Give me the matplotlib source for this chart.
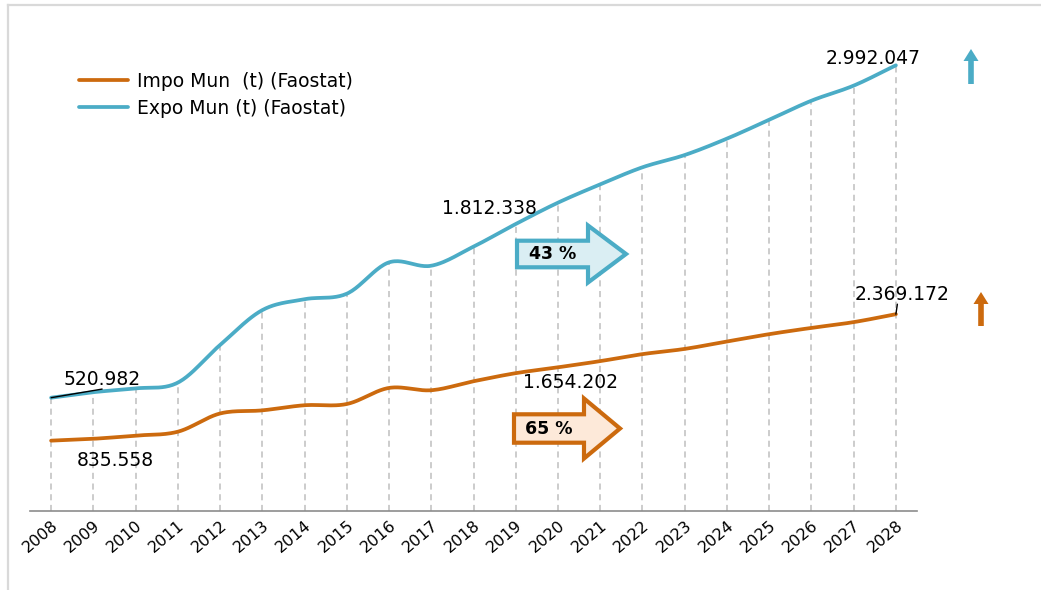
import numpy as np
import matplotlib.pyplot as plt
from matplotlib.lines import Line2D
from matplotlib.patches import Polygon

# Data (t)
years = list(range(2008, 2029))
impo = [835558, 858000, 897000, 944000, 1165000, 1203000, 1265000, 1280000,
        1475000, 1447000, 1556000, 1654202, 1725000, 1800000, 1885000, 1948000,
        2038000, 2127000, 2203000, 2273000, 2369172]
expo = [520982, 562000, 590000, 633000, 913000, 1172000, 1253000, 1294000,
        1527000, 1502000, 1644000, 1812338, 1971000, 2107000, 2234000, 2325000,
        2447000, 2587000, 2729000, 2841000, 2992047]
impo_label = "Impo Mun  (t) (Faostat)"
expo_label = "Expo Mun (t) (Faostat)"
impo_growth = "65 %"
expo_growth = "43 %"

BLUE = "#4bacc6"
ORANGE = "#cc6a0e"
W, H = 1041, 590


def fmt(v):
    return f"{v:,}".replace(",", ".")


def smooth(x, y, n=24):
    # Catmull-Rom curve through the points, like a "smoothed line" chart
    pts = np.column_stack([x, y]).astype(float)
    P = np.vstack([2 * pts[0] - pts[1], pts, 2 * pts[-1] - pts[-2]])
    t = np.linspace(0, 1, n, endpoint=False)[:, None]
    segs = []
    for i in range(1, len(P) - 2):
        p0, p1, p2, p3 = P[i - 1], P[i], P[i + 1], P[i + 2]
        segs.append(0.5 * (2 * p1 + (-p0 + p2) * t
                           + (2 * p0 - 5 * p1 + 4 * p2 - p3) * t ** 2
                           + (-p0 + 3 * p1 - 3 * p2 + p3) * t ** 3))
    segs.append(pts[-1:])
    c = np.vstack(segs)
    return c[:, 0], c[:, 1]


def fx(px):
    return px / W


def fy(py):
    return 1 - py / H


plt.rcParams['font.family'] = ['DejaVu Sans']
fig = plt.figure(figsize=(W / 100, H / 100), dpi=100)
ax = fig.add_axes([fx(30), fy(511), fx(917) - fx(30), fy(20) - fy(511)])
ax2 = ax.twinx()

ax.set_xlim(2007.5, 2028.5)
ax.set_ylim(-321500, 3329000)
ax2.set_ylim(-17600, 5937000)

# drop lines from the export curve down to the axis
ax.vlines(years, -321500, expo, colors="#bfbfbf", linewidth=1.1,
          linestyles=(0, (4, 3)), zorder=1)

sx, sy = smooth(years, expo)
ax.plot(sx, sy, color=BLUE, linewidth=2.7, solid_capstyle='round', zorder=3)
sx, sy = smooth(years, impo)
ax2.plot(sx, sy, color=ORANGE, linewidth=2.7, solid_capstyle='round', zorder=3)

for a in (ax, ax2):
    for s in ("left", "right", "top"):
        a.spines[s].set_visible(False)
    a.set_yticks([])
ax2.spines["bottom"].set_visible(False)
ax.spines["bottom"].set_color("#8c8c8c")
ax.spines["bottom"].set_linewidth(1.2)
ax.set_xticks(years)
ax.set_xticklabels([str(y) for y in years], rotation=40, ha='right',
                   rotation_mode='anchor', fontsize=11.5)
ax.tick_params(axis='x', length=0, pad=5)

# value labels
tsize = 13.5
ax.annotate(fmt(expo[0]), (years[0], expo[0]), xytext=(51, 18),
            textcoords='offset pixels', ha='center', va='center', fontsize=tsize)
ax.annotate("", (years[0], expo[0]), xytext=(51, 8.6), textcoords='offset pixels',
            arrowprops=dict(arrowstyle='-', color='black', lw=1, shrinkA=0, shrinkB=0))
ax2.annotate(fmt(impo[0]), (years[0], impo[0]), xytext=(64, -20),
             textcoords='offset pixels', ha='center', va='center', fontsize=tsize)
ax.annotate(fmt(expo[11]), (years[11], expo[11]), xytext=(-26, 15),
            textcoords='offset pixels', ha='center', va='center', fontsize=tsize)
ax2.annotate(fmt(impo[11]), (years[11], impo[11]), xytext=(55, -9),
             textcoords='offset pixels', ha='center', va='center', fontsize=tsize)
ax.annotate(fmt(expo[-1]), (years[-1], expo[-1]), xytext=(-23, 7),
            textcoords='offset pixels', ha='center', va='center', fontsize=tsize)
ax2.annotate(fmt(impo[-1]), (years[-1], impo[-1]), xytext=(6, 20),
             textcoords='offset pixels', ha='center', va='center', fontsize=tsize)
ax2.annotate("", (years[-1], impo[-1]), xytext=(1.5, 10), textcoords='offset pixels',
             arrowprops=dict(arrowstyle='-', color='black', lw=1, shrinkA=0, shrinkB=0))

# legend
handles = [Line2D([], [], color=ORANGE, lw=2.7, solid_capstyle='round'),
           Line2D([], [], color=BLUE, lw=2.7, solid_capstyle='round')]
fig.legend(handles, [impo_label, expo_label], loc='upper left',
           bbox_to_anchor=(fx(79), fy(72)), frameon=False, fontsize=13.5,
           handlelength=2.6, handletextpad=0.5, labelspacing=0.4,
           borderpad=0, borderaxespad=0)


def block_arrow(x0, xh, xt, cy, bh, hh, face, edge, text):
    pts = [(x0, cy - bh), (xh, cy - bh), (xh, cy - hh), (xt, cy),
           (xh, cy + hh), (xh, cy + bh), (x0, cy + bh)]
    fig.add_artist(Polygon([(fx(px), fy(py)) for px, py in pts], closed=True,
                           facecolor=face, edgecolor=edge, linewidth=3,
                           joinstyle='miter', transform=fig.transFigure, zorder=5))
    fig.text(fx((x0 + xh) / 2), fy(cy), text, ha='center', va='center',
             fontsize=12.5, fontweight='bold', zorder=6)


def up_arrow(x, tip, base, color):
    pts = [(x - 2.8, base), (x - 2.8, tip + 12), (x - 7.5, tip + 12), (x, tip),
           (x + 7.5, tip + 12), (x + 2.8, tip + 12), (x + 2.8, base)]
    fig.add_artist(Polygon([(fx(px), fy(py)) for px, py in pts], closed=True,
                           facecolor=color, edgecolor='none',
                           transform=fig.transFigure))


block_arrow(517, 588, 626, 254, 13.3, 28.5, "#daeef3", BLUE, expo_growth)
block_arrow(514, 584, 620, 428.5, 14.2, 30, "#fde9d9", ORANGE, impo_growth)
up_arrow(971, 49, 84, BLUE)
up_arrow(981, 292, 326, ORANGE)

# light frame on the left and top edges
fig.add_artist(Line2D([fx(7.5), fx(7.5)], [fy(4.5), 0], color="#d9d9d9", lw=1.6,
                      transform=fig.transFigure))
fig.add_artist(Line2D([fx(7.5), 1], [fy(4.5), fy(4.5)], color="#d9d9d9", lw=1.6,
                      transform=fig.transFigure))

fig.savefig("out.png", dpi=100)
